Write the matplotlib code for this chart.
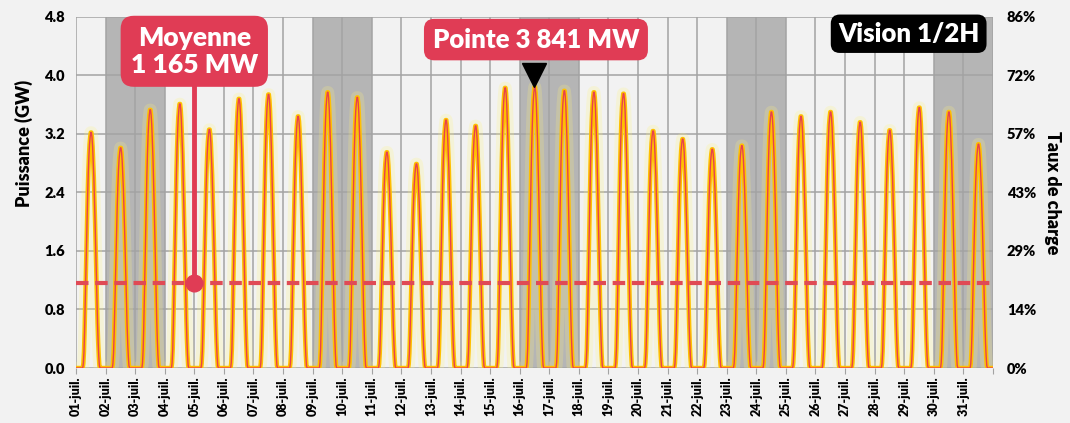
import numpy as np
import matplotlib
matplotlib.use("Agg")
import matplotlib.pyplot as plt

plt.rcParams['font.family'] = ['Lato', 'DejaVu Sans']
plt.rcParams['font.weight'] = 'heavy'

# daily peak production (GW)
days = np.arange(1, 32)
day_labels = ["%02d-juil." % d for d in days]
peaks = [3.22, 3.01, 3.53, 3.61, 3.26, 3.68, 3.74, 3.44, 3.77, 3.70,
         2.95, 2.79, 3.39, 3.31, 3.83, 3.841, 3.79, 3.77, 3.75, 3.24,
         3.13, 2.99, 3.04, 3.50, 3.44, 3.50, 3.36, 3.25, 3.56, 3.50, 3.06]
# typical half-hour shape of one day (share of the daily peak)
profile = [0, 0, 0, 0, 0, 0, 0, 0, 0, 0, 0, 0,
           0.02, 0.07, 0.16, 0.28, 0.41, 0.53, 0.64, 0.74, 0.83, 0.90, 0.95, 0.98,
           1.00, 1.00, 0.98, 0.94, 0.88, 0.81, 0.72, 0.62, 0.51, 0.40, 0.29, 0.19,
           0.11, 0.05, 0.01, 0, 0, 0, 0, 0, 0, 0, 0, 0]
weekends = [2, 3, 9, 10, 16, 17, 23, 24, 30, 31]
mean_gw = 1.165
gw_ticks = [0.0, 0.8, 1.6, 2.4, 3.2, 4.0, 4.8]
pct_labels = ["0%", "14%", "29%", "43%", "57%", "72%", "86%"]

power = np.concatenate([np.array(profile) * p for p in peaks])
t = np.arange(len(power)) / 48.0

bg = "#F2F2F2"
red = "#E03C55"
W = "heavy"
fig = plt.figure(figsize=(10.7, 4.23), dpi=100, facecolor=bg)
ax = fig.add_axes([0.071, 0.130, 0.857, 0.830])
ax.set_facecolor(bg)

for d in weekends:
    ax.axvspan(d - 1, d, color="#B5B5B5", lw=0, zorder=0)

ax.set_xlim(0, 31)
ax.set_ylim(0, 4.8)
ax.set_xticks(np.arange(0, 32))
ax.set_xticklabels(day_labels + [""], rotation=90, fontsize=9, fontweight=W)
ax.set_yticks(gw_ticks)
ax.set_yticklabels(["%.1f" % v for v in gw_ticks], fontsize=10.5, fontweight=W)
ax.grid(True, color="#A3A3A3", lw=1.1, zorder=0.5)
ax.set_axisbelow(True)
for s in ax.spines.values():
    s.set_visible(False)
ax.tick_params(axis="x", length=4, color="#A3A3A3", pad=2)
ax.tick_params(axis="y", length=0, pad=8)
ax.set_ylabel("Puissance (GW)", fontsize=13, fontweight=W)
ax.yaxis.set_label_coords(-0.047, 0.64)

# curve with glow
ax.plot(t, power, color="#FFF27A", lw=9, alpha=0.22, zorder=2, solid_capstyle="round")
ax.plot(t, power, color="#FFC000", lw=3.2, zorder=3)
ax.plot(t, power, color="#E8414D", lw=1.0, zorder=4)

# mean line
ax.axhline(mean_gw, color="#E04A55", lw=3, ls=(0, (3, 1.6)), zorder=5)
ax.plot([4.0, 4.0], [mean_gw, 3.9], color=red, lw=3.5, zorder=6)
ax.plot(4.0, mean_gw, "o", color=red, ms=12, zorder=7)
ax.text(4.0, 4.33, "Moyenne\n1 165 MW", ha="center", va="center", color="white",
        fontsize=19, fontweight=W, linespacing=1.15, zorder=8,
        bbox=dict(boxstyle="round,pad=0.38,rounding_size=0.5", fc=red, ec="none"))

# peak annotation
imax = int(np.argmax(power))
ax.plot(t[imax], 4.0, marker="v", color="black", ms=17, zorder=8, clip_on=False)
ax.text(t[imax] + 0.05, 4.49, "Pointe 3 841 MW", ha="center", va="center", color="white",
        fontsize=18.5, fontweight=W, zorder=9,
        bbox=dict(boxstyle="round,pad=0.34,rounding_size=0.4", fc=red, ec="none"))

ax.text(28.15, 4.57, "Vision 1/2H", ha="center", va="center", color="white",
        fontsize=18.5, fontweight=W, zorder=9,
        bbox=dict(boxstyle="round,pad=0.28,rounding_size=0.35", fc="black", ec="none"))

ax2 = ax.twinx()
ax2.set_ylim(0, 4.8)
ax2.set_yticks(gw_ticks)
ax2.set_yticklabels(pct_labels, fontsize=10.5, fontweight=W)
for s in ax2.spines.values():
    s.set_visible(False)
ax2.tick_params(axis="y", length=0, pad=10)
ax2.set_ylabel("Taux de charge", rotation=-90, fontsize=13, fontweight=W, labelpad=18)

fig.savefig("out.png", dpi=100, facecolor=bg)
